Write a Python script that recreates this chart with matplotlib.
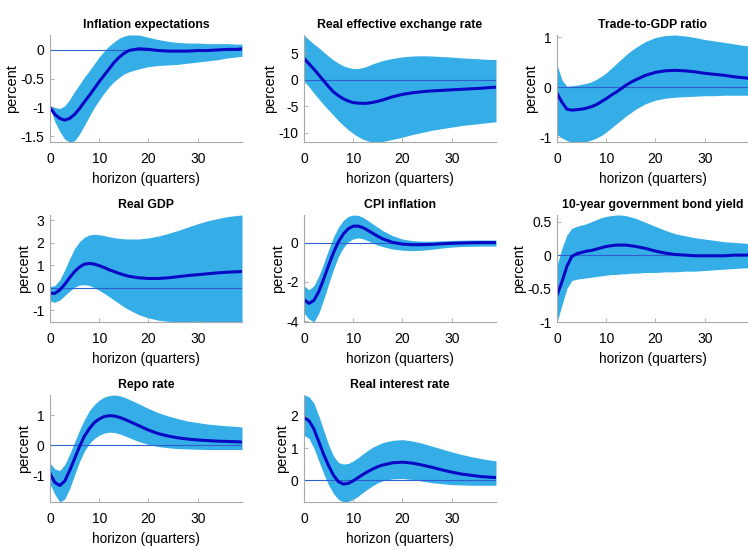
import matplotlib
matplotlib.use('Agg')
import matplotlib.pyplot as plt
from matplotlib.ticker import FormatStrFormatter

plt.rcParams['font.family'] = ['Liberation Sans Narrow', 'Liberation Sans', 'DejaVu Sans']

# horizon grid (quarters)
horizon = list(range(0, 17)) + list(range(18, 39, 2)) + [39]

titles = ['Inflation expectations', 'Real effective exchange rate', 'Trade-to-GDP ratio',
          'Real GDP', 'CPI inflation', '10-year government bond yield',
          'Repo rate', 'Real interest rate']

# Inflation expectations
infl_mean = [-1.0, -1.12, -1.19, -1.22, -1.19, -1.12, -1.02, -0.9, -0.79, -0.67, -0.55, -0.44, -0.33, -0.22, -0.13, -0.06, -0.01,
             0.02, 0.01, -0.01, -0.02, -0.02, -0.02, -0.01, -0.01, 0.0, 0.01, 0.01, 0.02]
infl_up = [-0.97, -1.0, -1.02, -0.97, -0.86, -0.72, -0.6, -0.47, -0.36, -0.24, -0.12, -0.02, 0.07, 0.14, 0.2, 0.24, 0.26,
           0.26, 0.22, 0.18, 0.15, 0.13, 0.12, 0.12, 0.11, 0.11, 0.11, 0.1, 0.1]
infl_lo = [-1.0, -1.25, -1.42, -1.55, -1.6, -1.58, -1.46, -1.31, -1.15, -1.0, -0.87, -0.75, -0.64, -0.55, -0.48, -0.42, -0.38,
           -0.33, -0.29, -0.27, -0.26, -0.25, -0.23, -0.21, -0.19, -0.17, -0.14, -0.12, -0.11]

# Real effective exchange rate
reer_mean = [4.0, 3.0, 2.0, 0.9, -0.2, -1.3, -2.3, -3.0, -3.6, -4.0, -4.3, -4.4, -4.45, -4.4, -4.25, -4.05, -3.8,
             -3.2, -2.75, -2.45, -2.25, -2.1, -2.0, -1.9, -1.8, -1.7, -1.6, -1.45, -1.4]
reer_up = [8.4, 7.5, 6.7, 6.0, 5.2, 4.4, 3.7, 3.1, 2.6, 2.3, 2.1, 2.1, 2.3, 2.6, 3.0, 3.3, 3.6,
           4.0, 4.3, 4.45, 4.5, 4.45, 4.35, 4.25, 4.1, 4.0, 3.9, 3.8, 3.8]
reer_lo = [-0.3, -1.3, -2.5, -3.6, -4.7, -5.7, -6.7, -7.7, -8.6, -9.4, -10.1, -10.7, -11.2, -11.5, -11.7, -11.7, -11.6,
           -11.2, -10.8, -10.3, -9.9, -9.5, -9.2, -8.9, -8.6, -8.4, -8.2, -8.0, -7.9]

# Trade-to-GDP ratio
trade_mean = [-0.12, -0.3, -0.44, -0.46, -0.45, -0.44, -0.42, -0.39, -0.35, -0.29, -0.23, -0.16, -0.1, -0.03, 0.04, 0.1, 0.15,
              0.24, 0.3, 0.33, 0.34, 0.33, 0.31, 0.28, 0.26, 0.24, 0.21, 0.19, 0.18]
trade_up = [0.45, 0.15, 0.02, 0.03, 0.04, 0.06, 0.08, 0.11, 0.16, 0.22, 0.29, 0.38, 0.47, 0.56, 0.65, 0.73, 0.8,
            0.92, 1.0, 1.04, 1.05, 1.03, 1.0, 0.96, 0.93, 0.9, 0.87, 0.84, 0.83]
trade_lo = [-0.95, -1.02, -1.07, -1.1, -1.1, -1.1, -1.09, -1.06, -1.02, -0.97, -0.9, -0.82, -0.74, -0.66, -0.58, -0.51, -0.44,
            -0.33, -0.26, -0.22, -0.2, -0.19, -0.18, -0.17, -0.17, -0.16, -0.16, -0.16, -0.16]

# Real GDP
gdp_mean = [-0.25, -0.25, -0.1, 0.15, 0.45, 0.72, 0.92, 1.05, 1.08, 1.05, 0.98, 0.9, 0.8, 0.72, 0.64, 0.57, 0.51,
            0.44, 0.41, 0.41, 0.44, 0.49, 0.54, 0.58, 0.62, 0.66, 0.69, 0.71, 0.72]
gdp_up = [0.05, 0.1, 0.35, 0.8, 1.3, 1.75, 2.05, 2.25, 2.35, 2.38, 2.36, 2.32, 2.27, 2.23, 2.2, 2.18, 2.17,
          2.17, 2.22, 2.3, 2.42, 2.55, 2.7, 2.85, 2.98, 3.08, 3.17, 3.22, 3.24]
gdp_lo = [-0.6, -0.65, -0.55, -0.35, -0.15, 0.02, 0.12, 0.13, 0.1, 0.0, -0.12, -0.25, -0.4, -0.55, -0.7, -0.85, -0.98,
          -1.2, -1.35, -1.45, -1.5, -1.52, -1.53, -1.53, -1.53, -1.53, -1.53, -1.53, -1.53]

# CPI inflation
cpi_mean = [-2.9, -3.1, -2.95, -2.5, -1.85, -1.15, -0.5, 0.05, 0.45, 0.72, 0.85, 0.85, 0.77, 0.63, 0.48, 0.33, 0.2,
            0.02, -0.07, -0.1, -0.1, -0.08, -0.05, -0.03, -0.01, 0.0, 0.01, 0.01, 0.01]
cpi_up = [-2.2, -2.4, -2.2, -1.7, -1.05, -0.35, 0.3, 0.8, 1.15, 1.35, 1.42, 1.4, 1.3, 1.13, 0.96, 0.79, 0.62,
          0.36, 0.19, 0.11, 0.08, 0.08, 0.1, 0.12, 0.13, 0.14, 0.14, 0.14, 0.14]
cpi_lo = [-3.6, -3.9, -4.05, -3.6, -2.9, -2.1, -1.35, -0.7, -0.25, 0.05, 0.2, 0.25, 0.2, 0.1, -0.02, -0.12, -0.2,
          -0.32, -0.38, -0.4, -0.38, -0.33, -0.27, -0.22, -0.19, -0.18, -0.17, -0.17, -0.17]

# 10-year government bond yield
bond_mean = [-0.6, -0.4, -0.17, -0.02, 0.02, 0.04, 0.06, 0.07, 0.09, 0.11, 0.13, 0.14, 0.15, 0.15, 0.15, 0.14, 0.13,
             0.1, 0.06, 0.03, 0.01, 0.0, -0.01, -0.01, -0.01, -0.01, 0.0, 0.0, 0.0]
bond_up = [-0.15, 0.1, 0.3, 0.4, 0.43, 0.45, 0.47, 0.5, 0.53, 0.56, 0.58, 0.59, 0.6, 0.6, 0.59, 0.57, 0.55,
           0.49, 0.43, 0.37, 0.32, 0.29, 0.26, 0.24, 0.22, 0.2, 0.19, 0.18, 0.17]
bond_lo = [-1.0, -0.75, -0.5, -0.38, -0.36, -0.35, -0.34, -0.33, -0.32, -0.31, -0.3, -0.29, -0.29, -0.28, -0.28, -0.27, -0.27,
           -0.26, -0.26, -0.25, -0.25, -0.24, -0.24, -0.23, -0.22, -0.21, -0.2, -0.19, -0.19]

# Repo rate
repo_mean = [-0.95, -1.25, -1.35, -1.2, -0.85, -0.45, -0.05, 0.3, 0.55, 0.75, 0.87, 0.95, 0.98, 0.97, 0.93, 0.87, 0.8,
             0.65, 0.5, 0.38, 0.3, 0.24, 0.2, 0.17, 0.15, 0.13, 0.12, 0.11, 0.1]
repo_up = [-0.6, -0.8, -0.85, -0.65, -0.3, 0.1, 0.5, 0.85, 1.15, 1.35, 1.5, 1.6, 1.65, 1.67, 1.65, 1.6, 1.53,
           1.38, 1.22, 1.08, 0.97, 0.88, 0.8, 0.75, 0.7, 0.67, 0.64, 0.62, 0.6]
repo_lo = [-1.3, -1.65, -1.9, -1.8, -1.45, -1.0, -0.55, -0.2, 0.05, 0.22, 0.33, 0.4, 0.43, 0.42, 0.38, 0.32, 0.25,
           0.12, 0.02, -0.05, -0.09, -0.12, -0.13, -0.14, -0.15, -0.15, -0.15, -0.15, -0.15]

# Real interest rate
rir_mean = [1.95, 1.85, 1.6, 1.2, 0.8, 0.45, 0.15, -0.05, -0.12, -0.1, -0.02, 0.08, 0.18, 0.27, 0.35, 0.42, 0.47,
            0.54, 0.56, 0.53, 0.47, 0.4, 0.32, 0.25, 0.19, 0.15, 0.11, 0.09, 0.08]
rir_up = [2.65, 2.6, 2.4, 2.0, 1.55, 1.1, 0.75, 0.55, 0.5, 0.52, 0.6, 0.7, 0.82, 0.93, 1.03, 1.1, 1.17,
          1.24, 1.26, 1.22, 1.15, 1.06, 0.97, 0.88, 0.8, 0.73, 0.67, 0.62, 0.6]
rir_lo = [1.4, 1.3, 1.0, 0.6, 0.2, -0.15, -0.42, -0.6, -0.68, -0.66, -0.6, -0.5, -0.38, -0.27, -0.17, -0.08, -0.02,
          0.04, 0.05, 0.02, -0.03, -0.08, -0.11, -0.14, -0.15, -0.16, -0.16, -0.16, -0.16]

yticks = [[-1.5, -1, -0.5, 0], [-10, -5, 0, 5], [-1, 0, 1],
          [-1, 0, 1, 2, 3], [-4, -2, 0], [-1, -0.5, 0, 0.5],
          [-1, 0, 1], [0, 1, 2]]

series = [(infl_mean, infl_up, infl_lo), (reer_mean, reer_up, reer_lo), (trade_mean, trade_up, trade_lo),
          (gdp_mean, gdp_up, gdp_lo), (cpi_mean, cpi_up, cpi_lo), (bond_mean, bond_up, bond_lo),
          (repo_mean, repo_up, repo_lo), (rir_mean, rir_up, rir_lo)]

band_color = '#35AEE8'
line_color = '#0808C4'
zero_color = '#2F5FCF'

fig = plt.figure(figsize=(7.48, 5.5), dpi=100)
W, H = 748, 550
lefts = [50, 304, 557]
tops = [35, 215, 395]
bottoms = [142, 322, 502]
aw = 192

for i, (mean, up, lo) in enumerate(series):
    r, c = divmod(i, 3)
    ax = fig.add_axes([lefts[c] / W, 1 - bottoms[r] / H, aw / W, (bottoms[r] - tops[r]) / H])
    ax.fill_between(horizon, lo, up, color=band_color, linewidth=0)
    ax.axhline(0, color=zero_color, linewidth=0.8)
    ax.plot(horizon, mean, color=line_color, linewidth=2.2)
    ax.set_xlim(0, 39)
    ax.set_ylim(min(lo), max(up))
    ax.set_xticks([0, 10, 20, 30])
    ax.set_yticks(yticks[i])
    ax.yaxis.set_major_formatter(FormatStrFormatter('%g'))
    ax.set_title(titles[i], fontsize=8.8, fontweight='bold', pad=5)
    ax.set_xlabel('horizon (quarters)', fontsize=9.8, labelpad=4)
    ax.set_ylabel('percent', fontsize=10.5, labelpad=1)
    for s in ['top', 'right']:
        ax.spines[s].set_visible(False)
    for s in ['left', 'bottom']:
        ax.spines[s].set_color('#A8A8A8')
        ax.spines[s].set_linewidth(0.8)
    ax.tick_params(direction='in', length=3, width=0.6, color='#A8A8A8', labelsize=10)
    ax.tick_params(axis='x', pad=7.5)
    ax.tick_params(axis='y', pad=4)

fig.savefig('out.png', dpi=100)
